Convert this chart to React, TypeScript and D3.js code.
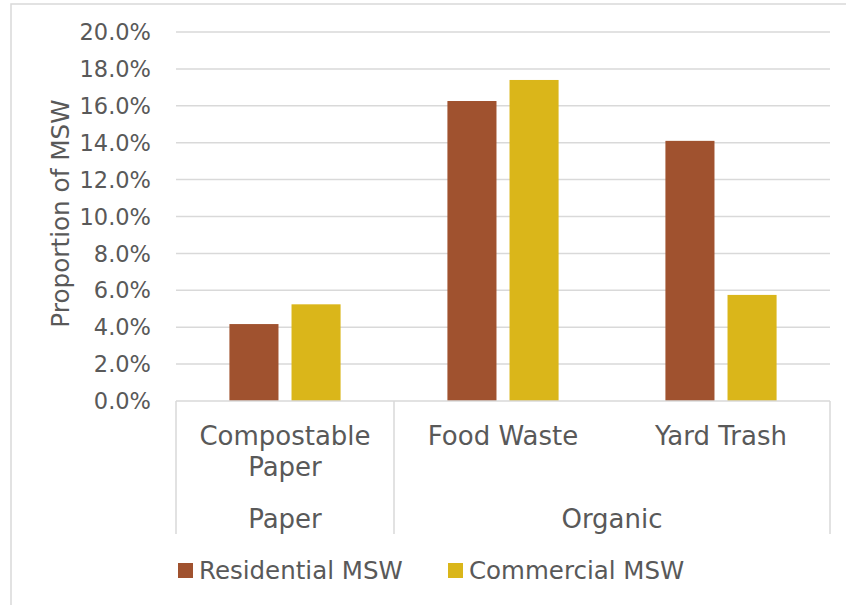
import React from "react";
import * as d3 from "d3";

const categories = ["Compostable\nPaper", "Food Waste", "Yard Trash"];
const groups = [
  { name: "Paper", span: 1 },
  { name: "Organic", span: 2 },
];
const seriesNames = ["Residential MSW", "Commercial MSW"];
const residential = [4.17, 16.26, 14.1];
const commercial = [5.24, 17.4, 5.75];
const yTicks = [0, 2, 4, 6, 8, 10, 12, 14, 16, 18, 20];
const colors = ["#A0522F", "#DAB61A"];

const W = 846;
const H = 605;
const FONT = "DejaVu Sans";
const TXT = "#595959";
const GRID = "#d9d9d9";

export default function App() {
  const left = 176, right = 830, top = 32, bottom = 401;
  const x = d3.scaleBand<number>().domain(d3.range(categories.length)).range([left, right]).paddingInner(0).paddingOuter(0);
  const y = d3.scaleLinear().domain([0, 20]).range([bottom, top]);
  const inner = d3.scaleBand<number>().domain([0, 1]).range([0, x.bandwidth()]).paddingInner(0.21).paddingOuter(0.86);
  const data = [residential, commercial];

  let acc = 0;
  const groupBounds = groups.map((g) => {
    const start = acc;
    acc += g.span;
    return { name: g.name, x0: x(start)!, x1: start + g.span < categories.length ? x(start + g.span)! : right };
  });

  return (
    <svg width={W} height={H} style={{ position: "absolute", left: 0, top: 0 }} fontFamily={FONT}>
      <rect x={0} y={0} width={W} height={H} fill="#fff" />
      <rect x={11} y={4} width={W} height={H} fill="none" stroke={GRID} strokeWidth={1.5} />
      {yTicks.map((t) => (
        <g key={t}>
          {t > 0 && <line x1={left} x2={right} y1={y(t)} y2={y(t)} stroke={GRID} strokeWidth={1.5} />}
          <text x={151} y={y(t)} dy="0.36em" textAnchor="end" fontSize={22.5} fill={TXT}>
            {d3.format(".1f")(t) + "%"}
          </text>
        </g>
      ))}
      <text transform={`translate(69,213.5) rotate(-90)`} textAnchor="middle" fontSize={24.7} fill={TXT}>
        Proportion of MSW
      </text>
      {data.map((vals, s) =>
        vals.map((v, i) => (
          <rect
            key={`${s}-${i}`}
            x={x(i)! + inner(s)!}
            y={y(v)}
            width={inner.bandwidth()}
            height={bottom - y(v)}
            fill={colors[s]}
          />
        ))
      )}
      {/* category axis frame */}
      <line x1={left} x2={right} y1={bottom} y2={bottom} stroke={GRID} strokeWidth={1.5} />
      {[left, ...groupBounds.map((g) => g.x1)].map((xx, i) => (
        <line key={i} x1={xx} x2={xx} y1={bottom} y2={534} stroke={GRID} strokeWidth={1.5} />
      ))}
      {categories.map((c, i) => (
        <text key={c} x={x(i)! + x.bandwidth() / 2} y={445} textAnchor="middle" fontSize={26} fill={TXT}>
          {c.split("\n").map((line, j) => (
            <tspan key={j} x={x(i)! + x.bandwidth() / 2} dy={j === 0 ? 0 : 31}>
              {line}
            </tspan>
          ))}
        </text>
      ))}
      {groupBounds.map((g) => (
        <text key={g.name} x={(g.x0 + g.x1) / 2} y={528} textAnchor="middle" fontSize={26} fill={TXT}>
          {g.name}
        </text>
      ))}
      {/* legend */}
      {seriesNames.map((n, i) => {
        const lx = [178, 448][i];
        return (
          <g key={n}>
            <rect x={lx} y={563} width={15} height={15} fill={colors[i]} />
            <text x={lx + 21} y={579} fontSize={24.5} fill={TXT}>
              {n}
            </text>
          </g>
        );
      })}
    </svg>
  );
}
